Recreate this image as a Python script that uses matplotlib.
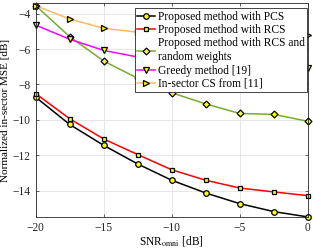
import matplotlib
matplotlib.use("Agg")
import matplotlib.pyplot as plt

plt.rcParams['font.family'] = ['Liberation Serif', 'DejaVu Serif']
plt.rcParams['mathtext.fontset'] = 'stix'

snr = [-20, -17.5, -15, -12.5, -10, -7.5, -5, -2.5, 0]

pcs = [-8.72, -10.26, -11.44, -12.49, -13.41, -14.13, -14.73, -15.18, -15.48]
rcs = [-8.52, -9.94, -11.08, -11.96, -12.82, -13.41, -13.85, -14.07, -14.28]
rcs_rw = [-3.55, -5.3, -6.68, -7.65, -8.47, -9.1, -9.64, -9.69, -10.08]
greedy = [-4.65, -5.45, -6.08, -6.45, -6.7, -6.85, -6.95, -7.0, -7.05]
insector = [-3.55, -4.31, -4.83, -5.05, -5.15, -5.2, -5.2, -5.2, -5.2]

labels = ["Proposed method with PCS",
          "Proposed method with RCS",
          "Proposed method with RCS and\nrandom weights",
          "Greedy method [19]",
          "In-sector CS from [11]"]

series = [pcs, rcs, rcs_rw, greedy, insector]
colours = ['k', 'r', '#77AC30', '#FF00FF', '#FDB96A']
markers = ['o', 's', 'D', 'v', '>']
msizes = [4, 3.5, 3.5, 4.5, 4.5]

fig = plt.figure(figsize=(3.13, 2.48), dpi=100)
ax = fig.add_axes([0.114, 0.124, 0.869, 0.864])

for vals, c, m, ms, lab in zip(series, colours, markers, msizes, labels):
    ax.plot(snr, vals, color=c, marker=m, markersize=ms,
            markerfacecolor='yellow', markeredgecolor='k',
            markeredgewidth=0.9, linewidth=1.1, label=lab, clip_on=False)

ax.set_xlim(-20, 0)
ax.set_ylim(-15.5, -3.4)
ax.set_xticks([-20, -15, -10, -5, 0])
ax.set_yticks([-14, -12, -10, -8, -6, -4])
ax.grid(True, color='#e3e3e3', linewidth=0.6)
ax.set_axisbelow(True)
ax.tick_params(direction='in', length=2.5, width=0.5, labelsize=8.3,
               top=True, right=True, colors='#262626')
for s in ax.spines.values():
    s.set_linewidth(0.6)
    s.set_color('#262626')

ax.set_xlabel(r"SNR$_{\mathrm{omni}}$ [dB]", fontsize=8.3, labelpad=0)
ax.set_ylabel("Normalized in-sector MSE [dB]", fontsize=8)
ax.yaxis.set_label_coords(-0.094, 0.5)

# legend sits over the lines, like the reference
leg = ax.legend(loc='upper right', bbox_to_anchor=(0.997, 0.975), fontsize=8.3,
                handlelength=1.6, handletextpad=0.2, borderpad=0.2,
                labelspacing=0.12, borderaxespad=0.0, fancybox=False,
                framealpha=1, edgecolor='#262626')
leg.get_frame().set_linewidth(0.6)
leg.set_zorder(5)

fig.savefig("out.png", dpi=100)
